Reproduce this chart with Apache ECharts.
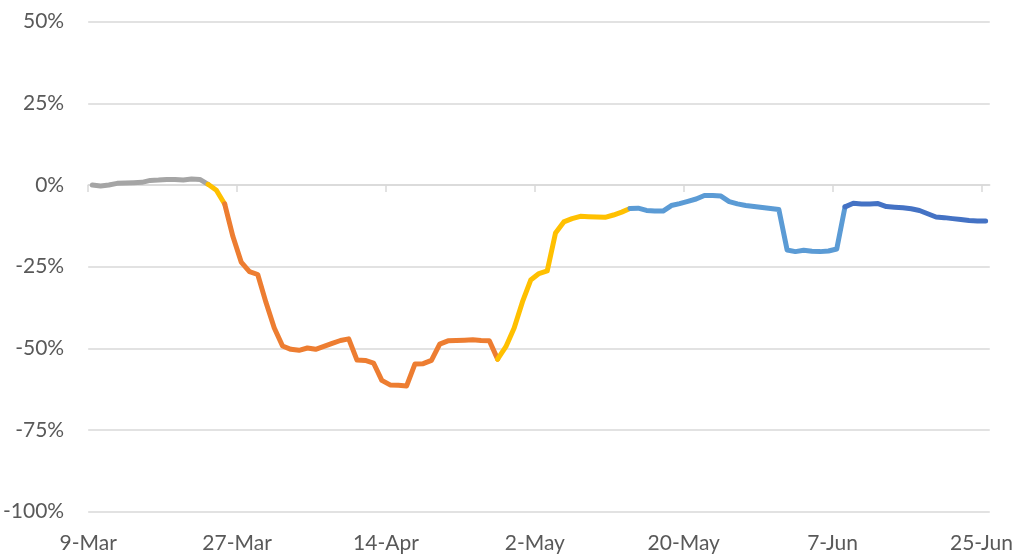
<!DOCTYPE html>
<html>
<head>
<meta charset="utf-8">
<title>Change since 9-Mar</title>
<script src="https://cdn.jsdelivr.net/npm/echarts@6/dist/echarts.min.js"></script>
<style>
  html, body { margin: 0; padding: 0; background: #fff; }
  #chart { width: 1016px; height: 560px; }
</style>
</head>
<body>
<div id="chart"></div>
<script>
// daily values in %, 9-Mar .. 25-Jun
const values = [
  0.0, -0.3, 0.0, 0.5, 0.6, 0.7, 0.8, 1.4, 1.5, 1.7,
  1.7, 1.5, 1.8, 1.7, 0.2, -1.6, -5.8, -15.8, -23.6, -26.5,
  -27.4, -36.0, -43.8, -49.3, -50.3, -50.6, -49.9, -50.3, -49.4, -48.5,
  -47.6, -47.1, -53.6, -53.7, -54.5, -59.8, -61.2, -61.3, -61.5, -54.8,
  -54.7, -53.7, -48.7, -47.7, -47.6, -47.5, -47.4, -47.6, -47.7, -53.3,
  -49.5, -43.8, -35.8, -29.1, -27.1, -26.3, -14.7, -11.3, -10.3, -9.6,
  -9.7, -9.8, -9.9, -9.2, -8.3, -7.2, -7.1, -7.8, -8.0, -8.0,
  -6.3, -5.7, -5.0, -4.3, -3.2, -3.2, -3.4, -5.1, -5.8, -6.3,
  -6.6, -6.9, -7.2, -7.5, -19.9, -20.4, -20.0, -20.3, -20.4, -20.2,
  -19.6, -6.7, -5.6, -5.8, -5.8, -5.7, -6.6, -6.8, -7.0, -7.3,
  -7.8, -8.8, -9.8, -10.0, -10.3, -10.6, -10.9, -11.0, -11.0
]

// dates for each value
const months = ['Mar', 'Apr', 'May', 'Jun']
const monthDays = [31, 30, 31, 30]
const dates = []
let m = 0
let day = 9
for (let i = 0; i < values.length; i++) {
  dates.push(day + '-' + months[m])
  day++
  if (day > monthDays[m]) { day = 1; m++ }
}

// label positions on the date axis (every 18 days)
const tickIdx = [0, 18, 36, 54, 72, 90, 108]

// colour segments: [first index, last index, colour]
const segments = [
  [0, 14, '#A5A5A5'],
  [14, 16, '#FFC000'],
  [16, 49, '#ED7D31'],
  [49, 65, '#FFC000'],
  [65, 91, '#5B9BD5'],
  [91, 108, '#4472C4'],
]

const myChart = echarts.init(document.getElementById('chart'))

const labelFont = {
  fontFamily: 'Lato',
  fontSize: 21,
  color: '#595959',
}

const series = segments.map((seg) => {
  const data = []
  for (let i = seg[0]; i <= seg[1]; i++) {
    // point sits in the middle of its day
    data.push([i + 0.5, values[i]])
  }
  return {
    type: 'line',
    xAxisIndex: 0,
    data: data,
    showSymbol: false,
    symbol: 'none',
    lineStyle: {
      color: seg[2],
      width: 5,
      cap: 'round',
      join: 'round',
    },
  }
})

const option = {
  animation: false,
  grid: {
    left: 87.4,
    right: 24.6,
    top: 21.6,
    bottom: 48.3,
  },
  xAxis: [
    {
      // date labels along the bottom
      type: 'value',
      min: 0,
      max: values.length,
      position: 'bottom',
      axisLine: { show: false, onZero: false },
      axisTick: { show: false },
      splitLine: { show: false },
      axisLabel: {
        ...labelFont,
        margin: 21,
        customValues: tickIdx,
        formatter: (v) => dates[v] || '',
      },
    },
    {
      // axis line with ticks crossing at 0%
      type: 'value',
      min: 0,
      max: values.length,
      position: 'bottom',
      axisLine: {
        show: true,
        onZero: true,
        lineStyle: { color: '#D9D9D9', width: 1.5 },
      },
      axisTick: {
        show: true,
        length: 7,
        customValues: tickIdx,
        lineStyle: { color: '#D9D9D9', width: 1.5 },
      },
      axisLabel: { show: false },
      splitLine: { show: false },
    },
  ],
  yAxis: {
    type: 'value',
    min: -100,
    max: 50,
    interval: 25,
    axisLine: { show: false },
    axisTick: { show: false },
    splitLine: {
      lineStyle: { color: '#D9D9D9', width: 1.5 },
    },
    axisLabel: {
      ...labelFont,
      margin: 24,
      formatter: '{value}%',
    },
  },
  series: series,
}

myChart.setOption(option)
</script>
</body>
</html>
